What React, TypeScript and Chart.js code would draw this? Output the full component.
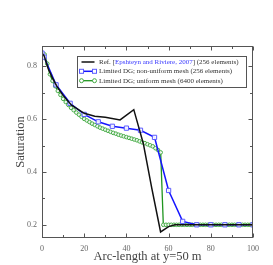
import React, { useEffect, useRef } from 'react';
import { Chart, registerables } from 'chart.js';

Chart.register(...registerables);

// Reference solution [Epshteyn and Riviere, 2007]
const refX = [0, 1, 3, 5, 7, 10, 14, 20, 25, 30, 37, 43.5, 46, 48, 52, 56.2, 60, 63, 100];
const refY = [0.85, 0.84, 0.79, 0.755, 0.725, 0.69, 0.653, 0.622, 0.611, 0.607, 0.597, 0.636, 0.565, 0.508, 0.34, 0.173, 0.193, 0.2, 0.2];

// Limited DG, non-uniform mesh (256 elements)
const nonUniformX = [0, 1, 6.67, 13.33, 20, 26.67, 33.33, 40, 46.67, 53.33, 60, 66.67, 73.33, 80, 86.67, 93.33, 100];
const nonUniformY = [0.85, 0.835, 0.73, 0.66, 0.618, 0.59, 0.573, 0.566, 0.558, 0.531, 0.33, 0.213, 0.2, 0.2, 0.2, 0.2, 0.2];

// Limited DG, uniform mesh (6400 elements)
const uniformX = [
  0, 1.25, 2.5, 3.75, 5, 6.25, 7.5, 8.75, 10, 11.25, 12.5, 13.75, 15, 16.25, 17.5, 18.75,
  20, 21.25, 22.5, 23.75, 25, 26.25, 27.5, 28.75, 30, 31.25, 32.5, 33.75, 35, 36.25, 37.5, 38.75,
  40, 41.25, 42.5, 43.75, 45, 46.25, 47.5, 48.75, 50, 51.25, 52.5, 53.75, 55, 56.25, 57.5, 58.75,
  60, 61.25, 62.5, 63.75, 65, 66.25, 67.5, 68.75, 70, 71.25, 72.5, 73.75, 75, 76.25, 77.5, 78.75,
  80, 81.25, 82.5, 83.75, 85, 86.25, 87.5, 88.75, 90, 91.25, 92.5, 93.75, 95, 96.25, 97.5, 98.75, 100,
];
const uniformY = [
  0.85, 0.845, 0.81, 0.77, 0.745, 0.725, 0.707, 0.692, 0.677, 0.665, 0.654, 0.643, 0.634, 0.625, 0.617, 0.609,
  0.601, 0.595, 0.589, 0.583, 0.578, 0.573, 0.568, 0.564, 0.56, 0.556, 0.552, 0.548, 0.545, 0.541, 0.538, 0.535,
  0.532, 0.529, 0.526, 0.523, 0.52, 0.516, 0.512, 0.509, 0.505, 0.501, 0.497, 0.49, 0.483, 0.474, 0.2, 0.2,
  0.2, 0.2, 0.2, 0.2, 0.2, 0.2, 0.2, 0.2, 0.2, 0.2, 0.2, 0.2, 0.2, 0.2, 0.2, 0.2,
  0.2, 0.2, 0.2, 0.2, 0.2, 0.2, 0.2, 0.2, 0.2, 0.2, 0.2, 0.2, 0.2, 0.2, 0.2, 0.2, 0.2,
];

const xMajorTicks = [0, 20, 40, 60, 80, 100];
const xMinorTicks = [10, 30, 50, 70, 90];
const yMajorTicks = [0.2, 0.4, 0.6, 0.8];
const yMinorTicks = [0.3, 0.5, 0.7];

const xTitle = 'Arc-length at y=50 m';
const yTitle = 'Saturation';

const legendRef = ['Ref. [', 'Epshteyn and Riviere, 2007', '] (256 elements)'];
const legendNonUniform = 'Limited DG; non-uniform mesh (256 elements)';
const legendUniform = 'Limited DG; uniform mesh (6400 elements)';

const SERIF = '"Liberation Serif", "DejaVu Serif", serif';
const FRAME = '#555555';
const BLACK = '#111111';
const BLUE = '#1515ff';
const BLUE_MK = '#5a5aff';
const GREEN = '#1f951f';
const GREEN_MK = '#45ab45';

const pts = (xs: number[], ys: number[]) => xs.map((x, i) => ({ x, y: ys[i] }));

const framePlugin = {
  id: 'frameAndLegend',
  afterDraw(chart: any) {
    const { ctx, chartArea: a, scales } = chart;
    const xs = scales.x;
    const ys = scales.y;
    ctx.save();
    const L = Math.round(a.left) + 0.5;
    const R = Math.round(a.right) - 0.5;
    const T = Math.round(a.top) + 0.5;
    const B = Math.round(a.bottom) - 0.5;
    ctx.strokeStyle = FRAME;
    ctx.lineWidth = 1;
    ctx.strokeRect(L, T, R - L, B - T);
    ctx.beginPath();
    const xt = (v: number, len: number) => {
      const p = Math.round(xs.getPixelForValue(v)) + 0.5;
      ctx.moveTo(p, B); ctx.lineTo(p, B - len);
      ctx.moveTo(p, T); ctx.lineTo(p, T + len);
    };
    const yt = (v: number, len: number) => {
      const p = Math.round(ys.getPixelForValue(v)) + 0.5;
      ctx.moveTo(L, p); ctx.lineTo(L + len, p);
      ctx.moveTo(R, p); ctx.lineTo(R - len, p);
    };
    xMajorTicks.forEach((v) => xt(v, 4));
    xMinorTicks.forEach((v) => xt(v, 2.5));
    yMajorTicks.forEach((v) => yt(v, 4));
    yMinorTicks.forEach((v) => yt(v, 2.5));
    ctx.stroke();

    // legend box
    const bx = 77.5, by = 56.5, bw = 169, bh = 31;
    ctx.fillStyle = '#ffffff';
    ctx.fillRect(bx, by, bw, bh);
    ctx.strokeStyle = FRAME;
    ctx.strokeRect(bx, by, bw, bh);
    const rows = [62, 71.3, 80.7];
    const lx0 = 81.5, lx1 = 94.5, tx = 99;
    ctx.font = '7px ' + SERIF;
    ctx.textBaseline = 'middle';
    ctx.textAlign = 'left';

    // row 1
    ctx.strokeStyle = BLACK; ctx.lineWidth = 1.5;
    ctx.beginPath(); ctx.moveTo(lx0, rows[0]); ctx.lineTo(lx1, rows[0]); ctx.stroke();
    let x = tx;
    ctx.fillStyle = '#333333'; ctx.fillText(legendRef[0], x, rows[0]); x += ctx.measureText(legendRef[0]).width;
    ctx.fillStyle = '#3a3aff'; ctx.fillText(legendRef[1], x, rows[0]); x += ctx.measureText(legendRef[1]).width;
    ctx.fillStyle = '#333333'; ctx.fillText(legendRef[2], x, rows[0]);

    // row 2
    ctx.strokeStyle = BLUE; ctx.lineWidth = 1.5;
    ctx.beginPath(); ctx.moveTo(lx0, rows[1]); ctx.lineTo(lx1, rows[1]); ctx.stroke();
    ctx.strokeStyle = BLUE_MK; ctx.lineWidth = 1; ctx.fillStyle = '#ffffff';
    [lx0, lx1].forEach((px) => { ctx.fillRect(px - 2, rows[1] - 2, 4, 4); ctx.strokeRect(px - 2, rows[1] - 2, 4, 4); });
    ctx.fillStyle = '#333333'; ctx.fillText(legendNonUniform, tx, rows[1]);

    // row 3
    ctx.strokeStyle = GREEN; ctx.lineWidth = 1.3;
    ctx.beginPath(); ctx.moveTo(lx0, rows[2]); ctx.lineTo(lx1, rows[2]); ctx.stroke();
    ctx.strokeStyle = GREEN_MK; ctx.lineWidth = 1; ctx.fillStyle = '#ffffff';
    [lx0, lx1].forEach((px) => { ctx.beginPath(); ctx.arc(px, rows[2], 2, 0, Math.PI * 2); ctx.fill(); ctx.stroke(); });
    ctx.fillStyle = '#333333'; ctx.fillText(legendUniform, tx, rows[2]);
    ctx.restore();
  },
};

export default function App() {
  const canvasRef = useRef<HTMLCanvasElement | null>(null);
  useEffect(() => {
    if (!canvasRef.current) return;
    const chart = new Chart(canvasRef.current, {
      type: 'scatter',
      data: {
        datasets: [
          {
            label: 'Ref.',
            data: pts(refX, refY),
            showLine: true,
            borderColor: BLACK,
            borderWidth: 1.5,
            pointRadius: 0,
            fill: false,
          },
          {
            label: legendNonUniform,
            data: pts(nonUniformX, nonUniformY),
            showLine: true,
            borderColor: BLUE,
            borderWidth: 1.5,
            pointStyle: 'rect',
            pointRadius: 3,
            pointBorderWidth: 1,
            pointBorderColor: BLUE_MK,
            pointBackgroundColor: 'rgba(255,255,255,0.9)',
            fill: false,
          },
          {
            label: legendUniform,
            data: pts(uniformX, uniformY),
            showLine: true,
            borderColor: GREEN,
            borderWidth: 1.3,
            pointStyle: 'circle',
            pointRadius: 1.8,
            pointBorderWidth: 1,
            pointBorderColor: GREEN_MK,
            pointBackgroundColor: 'rgba(255,255,255,0.9)',
            fill: false,
          },
        ],
      },
      options: {
        animation: false,
        responsive: false,
        maintainAspectRatio: false,
        layout: { padding: { left: 0, top: 46, right: 20, bottom: 0 } },
        plugins: { legend: { display: false }, tooltip: { enabled: false } },
        scales: {
          x: {
            type: 'linear',
            min: 0,
            max: 100,
            afterBuildTicks: (s: any) => { s.ticks = xMajorTicks.map((v) => ({ value: v })); },
            afterFit: (s: any) => { s.height = 27; },
            grid: { display: false, drawTicks: false },
            border: { display: false },
            ticks: {
              padding: 6,
              color: '#666666',
              font: { family: SERIF, size: 8 },
              maxRotation: 0,
              callback: (v: any) => String(v),
            },
            title: {
              display: true,
              text: xTitle,
              color: '#444444',
              font: { family: SERIF, size: 12.5 },
              padding: { top: 0, bottom: 1 },
            },
          },
          y: {
            type: 'linear',
            min: 0.15,
            max: 0.877,
            afterBuildTicks: (s: any) => { s.ticks = yMajorTicks.map((v) => ({ value: v })); },
            afterFit: (s: any) => { s.width = 42; },
            grid: { display: false, drawTicks: false },
            border: { display: false },
            ticks: {
              padding: 5,
              color: '#666666',
              font: { family: SERIF, size: 8 },
              callback: (v: any) => Number(v).toFixed(1),
            },
            title: {
              display: true,
              text: yTitle,
              color: '#444444',
              font: { family: SERIF, size: 12.5 },
              padding: { top: 13, bottom: 0 },
            },
          },
        },
      },
      plugins: [framePlugin],
    } as any);
    return () => chart.destroy();
  }, []);
  return (
    <div style={{ position: 'absolute', left: 0, top: 0, width: 273, height: 265, background: '#ffffff' }}>
      <canvas ref={canvasRef} width={273} height={265} style={{ display: 'block', width: 273, height: 265 }} />
    </div>
  );
}
